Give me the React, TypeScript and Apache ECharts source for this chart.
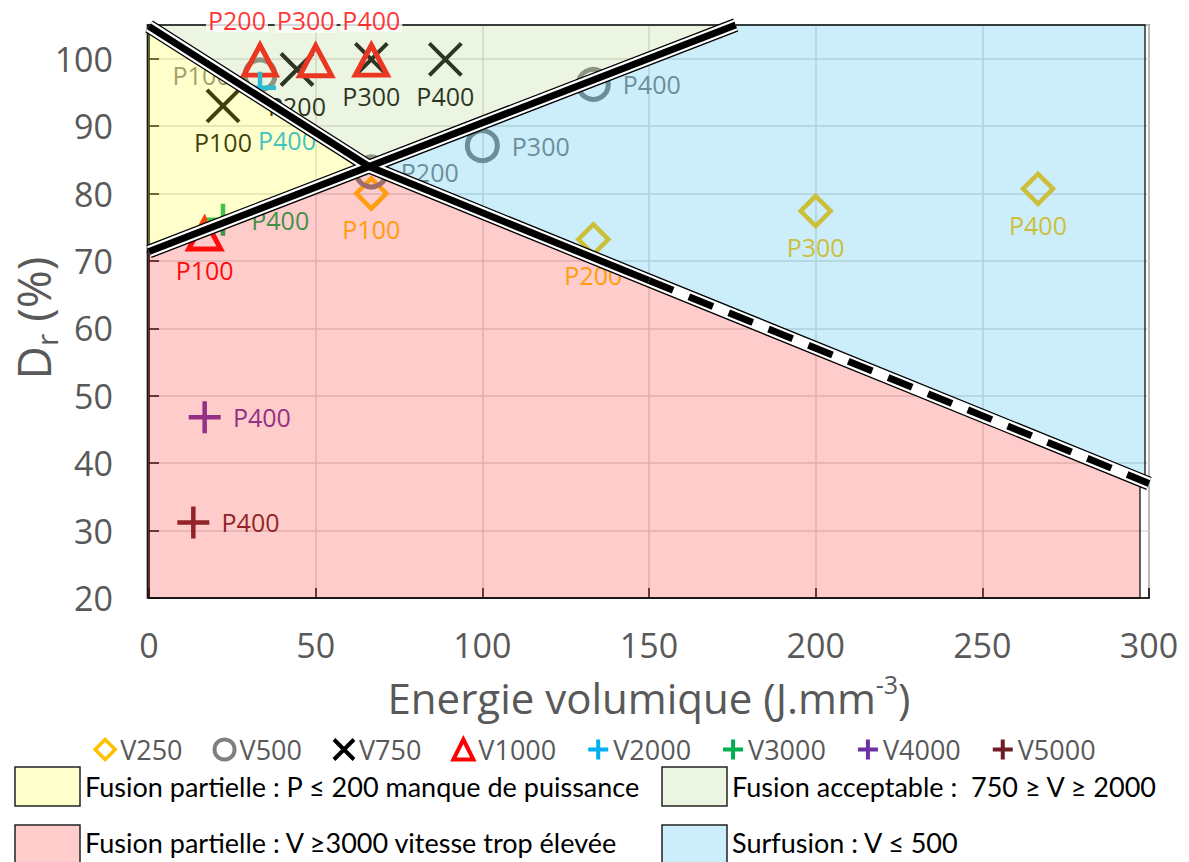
import React, { useEffect, useRef } from 'react';
import * as echarts from 'echarts';

// ---------- data ----------
const P_LABELS = ['P100', 'P200', 'P300', 'P400'];
const P400_ONLY = ['P400'];

const V250_E = [66.7, 133.3, 200.0, 266.7];
const V250_DR = [80.0, 73.2, 77.4, 80.7];
const V500_E = [33.3, 66.7, 100.0, 133.3];
const V500_DR = [97.6, 83.2, 87.1, 96.2];
const V750_E = [22.2, 44.4, 66.7, 88.9];
const V750_DR = [93.0, 98.4, 99.9, 99.9];
const V1000_E = [16.7, 33.3, 50.0, 66.7];
const V1000_DR = [74.0, 99.8, 99.7, 99.8];
const V2000_E = [33.3];
const V2000_DR = [95.7];
const V3000_E = [22.2];
const V3000_DR = [76.1];
const V4000_E = [16.7];
const V4000_DR = [46.8];
const V5000_E = [13.3];
const V5000_DR = [31.2];

const X_MIN = 0, X_MAX = 300, X_STEP = 50;
const Y_MIN = 20, Y_MAX = 105, Y_STEP = 10;

// region polygons (energy, Dr)
const REGION_YELLOW = [[-0.5, 105], [-0.5, 71.4], [66, 84]];
const REGION_GREEN = [[0, 105], [66, 84], [176, 105]];
const REGION_BLUE = [[66, 84], [176, 105], [298.8, 105], [298.8, 37.4]];
const REGION_PINK = [[-0.5, 71.4], [66, 84], [297.3, 37.6], [297.3, 20], [-0.5, 20]];

// boundary lines
const LINE_A_SOLID = [[0, 104.8], [66, 84], [150, 67.1]];
const LINE_A_DASHED = [[150, 67.1], [300, 37]];
const LINE_B = [[0, 71.4], [176, 105]];

const LEGEND_NAMES = ['V250', 'V500', 'V750', 'V1000', 'V2000', 'V3000', 'V4000', 'V5000'];
const REGION_TEXTS = [
  'Fusion partielle : P ≤ 200 manque de puissance',
  'Fusion acceptable :  750 ≥ V ≥ 2000',
  'Fusion partielle : V ≥3000 vitesse trop élevée',
  'Surfusion : V ≤ 500',
];

// ---------- styles ----------
const FONT = "'Open Sans', sans-serif";
const C250 = '#FFC000';
const C500 = '#7F7F7F';
const C750 = '#000000';
const C1000 = '#FF0000';
const C2000 = '#00B0F0';
const C3000 = '#00B050';
const C4000 = '#7030A0';
const C5000 = '#6E1E22';

const FILL_YELLOW = 'rgba(255,255,51,0.25)';
const FILL_GREEN = 'rgba(175,215,135,0.25)';
const FILL_PINK = 'rgba(255,51,51,0.25)';
const FILL_BLUE = 'rgba(51,187,235,0.25)';

const SYM_DIAMOND = 'path://M5,0L10,5L5,10L0,5Z';
const SYM_X = 'path://M0,0L10,10M10,0L0,10';
const SYM_PLUS = 'path://M5,0L5,10M0,5L10,5';

const V250_POS = ['bottom', 'bottom', 'bottom', 'bottom'];
const V500_POS = ['left', 'right', 'right', 'right'];
const V750_POS = ['bottom', 'bottom', 'bottom', 'bottom'];
const TOP_LABEL_DX = [-23, -10, 0];

function pts(es: number[], ds: number[], names: string[], pos: string[] | null, extra: any = {}) {
  return es.map((e, i) => ({
    value: [e, ds[i]],
    name: names[i],
    label: pos ? { position: pos[i], ...extra } : extra,
  }));
}

function scatter(name: string, data: any[], symbol: string, size: any, color: string, bw: number, labelCfg: any = {}) {
  return {
    type: 'scatter',
    name,
    z: 2,
    silent: true,
    symbol,
    symbolSize: size,
    itemStyle: { color: 'rgba(0,0,0,0)', borderColor: color, borderWidth: bw, opacity: 1 },
    label: {
      show: true,
      formatter: '{b}',
      color: color,
      fontSize: 25,
      fontFamily: FONT,
      distance: 6,
      ...labelCfg,
    },
    data,
  };
}

function region(points: number[][], fill: string) {
  return {
    type: 'custom',
    z: 5,
    silent: true,
    data: [[0, 0]],
    renderItem: (params: any, api: any) => ({
      type: 'polygon',
      shape: { points: points.map((p) => api.coord(p)) },
      style: { fill, stroke: '#111', lineWidth: 1.3 },
    }),
  };
}

function band(data: number[][], color: string, width: number, z: number, dashed = false) {
  return {
    type: 'line',
    z,
    silent: true,
    data,
    showSymbol: false,
    symbol: 'none',
    lineStyle: { color, width, type: dashed ? [26, 17] : 'solid', cap: 'butt', join: 'round' },
  };
}

export default function App() {
  const ref = useRef<HTMLDivElement>(null);
  useEffect(() => {
    if (!ref.current) return;
    const chart = echarts.init(ref.current, null, { renderer: 'svg' });

    const legendIcon = (name: string, icon: string, color: string, bw: number) => ({
      name,
      icon,
      itemStyle: { color: 'rgba(0,0,0,0)', borderColor: color, borderWidth: bw },
    });

    const regionLegend = (x: number, y: number, fill: string, text: string, dy: number) => [
      {
        type: 'rect',
        shape: { x, y, width: 65, height: 39 },
        style: { fill, stroke: '#222', lineWidth: 1.5 },
        z: 100,
      },
      {
        type: 'text',
        x: x + 70,
        y: y + dy,
        z: 100,
        style: {
          text,
          fill: '#000',
          fontSize: 27,
          fontFamily: "Lato, 'Open Sans', sans-serif",
          textAlign: 'left',
          verticalAlign: 'middle',
          textVerticalAlign: 'middle',
        },
      },
    ];

    const axisCommon = {
      axisLine: { show: true, onZero: false, lineStyle: { color: '#000', width: 1.5 } },
      axisTick: { show: true, inside: true, length: 10, lineStyle: { color: '#000', width: 1.5 } },
      splitLine: { show: true, lineStyle: { color: '#d9d9d9', width: 1.5 } },
    };

    const option: any = {
      animation: false,
      backgroundColor: '#ffffff',
      grid: {
        left: 149, top: 25, width: 1000, height: 573,
        show: true, borderColor: '#262626', borderWidth: 1.5, backgroundColor: 'rgba(0,0,0,0)',
      },
      xAxis: {
        type: 'value', min: X_MIN, max: X_MAX, interval: X_STEP,
        ...axisCommon,
        axisLabel: { fontSize: 34, lineHeight: 34, color: '#595959', fontFamily: FONT, margin: 30 },
      },
      yAxis: {
        type: 'value', min: Y_MIN, max: Y_MAX, interval: Y_STEP,
        ...axisCommon,
        axisLabel: {
          fontSize: 34, color: '#595959', fontFamily: FONT, margin: 36,
          formatter: (v: number) => (v > 100 ? '' : String(v)),
        },
      },
      legend: {
        top: 731,
        left: 'center',
        itemGap: 30,
        itemWidth: 20,
        itemHeight: 20,
        selectedMode: false,
        textStyle: { fontSize: 27, color: '#595959', fontFamily: FONT },
        data: [
          legendIcon('V250', SYM_DIAMOND, C250, 3.5),
          legendIcon('V500', 'circle', C500, 4),
          legendIcon('V750', SYM_X, C750, 4),
          legendIcon('V1000', 'triangle', C1000, 4),
          legendIcon('V2000', SYM_PLUS, C2000, 4),
          legendIcon('V3000', SYM_PLUS, C3000, 4),
          legendIcon('V4000', SYM_PLUS, C4000, 4),
          legendIcon('V5000', SYM_PLUS, C5000, 4),
        ],
      },
      graphic: [
        {
          type: 'text',
          x: 649,
          y: 697,
          z: 100,
          style: {
            text: '{a|Energie volumique (J.mm}{s|-3}{a|)}',
            textAlign: 'center',
            verticalAlign: 'middle',
            textVerticalAlign: 'middle',
            rich: {
              a: { fontSize: 42, fontFamily: FONT, fill: '#595959', color: '#595959', lineHeight: 52, verticalAlign: 'middle' },
              s: { fontSize: 25, fontFamily: FONT, fill: '#595959', color: '#595959', lineHeight: 25, verticalAlign: 'top' },
            },
          },
        },
        {
          type: 'text',
          x: 33,
          y: 318,
          rotation: Math.PI / 2,
          z: 100,
          style: {
            text: '{a|D}{s|r}{a| (%)}',
            textAlign: 'center',
            verticalAlign: 'middle',
            textVerticalAlign: 'middle',
            rich: {
              a: { fontSize: 46, fontFamily: FONT, fill: '#595959', color: '#595959', lineHeight: 56, verticalAlign: 'middle' },
              s: { fontSize: 30, fontFamily: FONT, fill: '#595959', color: '#595959', lineHeight: 30, verticalAlign: 'bottom' },
            },
          },
        },
        ...regionLegend(15, 767, FILL_YELLOW, REGION_TEXTS[0], 19),
        ...regionLegend(662, 767, FILL_GREEN, REGION_TEXTS[1], 19),
        ...regionLegend(15, 825, FILL_PINK, REGION_TEXTS[2], 17),
        ...regionLegend(662, 825, FILL_BLUE, REGION_TEXTS[3], 17),
      ],
      series: [
        scatter(LEGEND_NAMES[0], pts(V250_E, V250_DR, P_LABELS, V250_POS), SYM_DIAMOND, 30, C250, 4.5),
        scatter(LEGEND_NAMES[1], pts(V500_E, V500_DR, P_LABELS, V500_POS), 'circle', 30, C500, 5, { distance: 12 }),
        scatter(LEGEND_NAMES[2], pts(V750_E, V750_DR, P_LABELS, V750_POS), SYM_X, 32, C750, 4),
        scatter(
          LEGEND_NAMES[3],
          V1000_E.map((e, i) => ({
            value: [e, V1000_DR[i]],
            name: P_LABELS[i],
            label: { show: i === 0, position: 'bottom' },
          })),
          'triangle', [32, 30], C1000, 5,
        ),
        scatter(LEGEND_NAMES[4], pts(V2000_E, V2000_DR, P400_ONLY, ['bottom'], { offset: [27, 16] }), SYM_PLUS, 32, C2000, 4.5),
        scatter(LEGEND_NAMES[5], pts(V3000_E, V3000_DR, P400_ONLY, ['right']), SYM_PLUS, 32, C3000, 4.5, { distance: 10 }),
        scatter(LEGEND_NAMES[6], pts(V4000_E, V4000_DR, P400_ONLY, ['right']), SYM_PLUS, 32, C4000, 4.5, { distance: 10 }),
        scatter(LEGEND_NAMES[7], pts(V5000_E, V5000_DR, P400_ONLY, ['right']), SYM_PLUS, 32, C5000, 4.5, { distance: 10 }),

        region(REGION_YELLOW, FILL_YELLOW),
        region(REGION_GREEN, FILL_GREEN),
        region(REGION_BLUE, FILL_BLUE),
        region(REGION_PINK, FILL_PINK),

        band(LINE_A_SOLID.concat(LINE_A_DASHED.slice(1)), '#000', 14, 6),
        band(LINE_B, '#000', 14, 6),
        band(LINE_A_SOLID.concat(LINE_A_DASHED.slice(1)), '#fff', 11.4, 7),
        band(LINE_B, '#fff', 11.4, 7),
        band(LINE_A_SOLID, '#000', 7, 8),
        band(LINE_A_DASHED, '#000', 7, 8, true),
        band(LINE_B, '#000', 7, 8),

        // V1000 upper labels (drawn above the shaded regions, white background)
        {
          type: 'scatter',
          name: 'V1000-labels',
          z: 10,
          silent: true,
          symbol: 'triangle',
          symbolSize: [32, 30],
          itemStyle: { color: 'rgba(0,0,0,0)', borderColor: 'rgba(0,0,0,0)', borderWidth: 0 },
          label: {
            show: true,
            position: 'top',
            distance: 13,
            formatter: '{b}',
            color: C1000,
            fontSize: 25,
            fontFamily: FONT,
            backgroundColor: '#ffffff',
            padding: [0, 2],
          },
          data: V1000_E.slice(1).map((e, i) => ({
            value: [e, V1000_DR[i + 1]],
            name: P_LABELS[i + 1],
            label: { offset: [TOP_LABEL_DX[i], 0] },
          })),
        },
      ],
    };

    chart.setOption(option);
    return () => chart.dispose();
  }, []);

  return (
    <div
      ref={ref}
      style={{ position: 'fixed', left: 0, top: 0, width: 1189, height: 862, background: '#fff' }}
    />
  );
}
